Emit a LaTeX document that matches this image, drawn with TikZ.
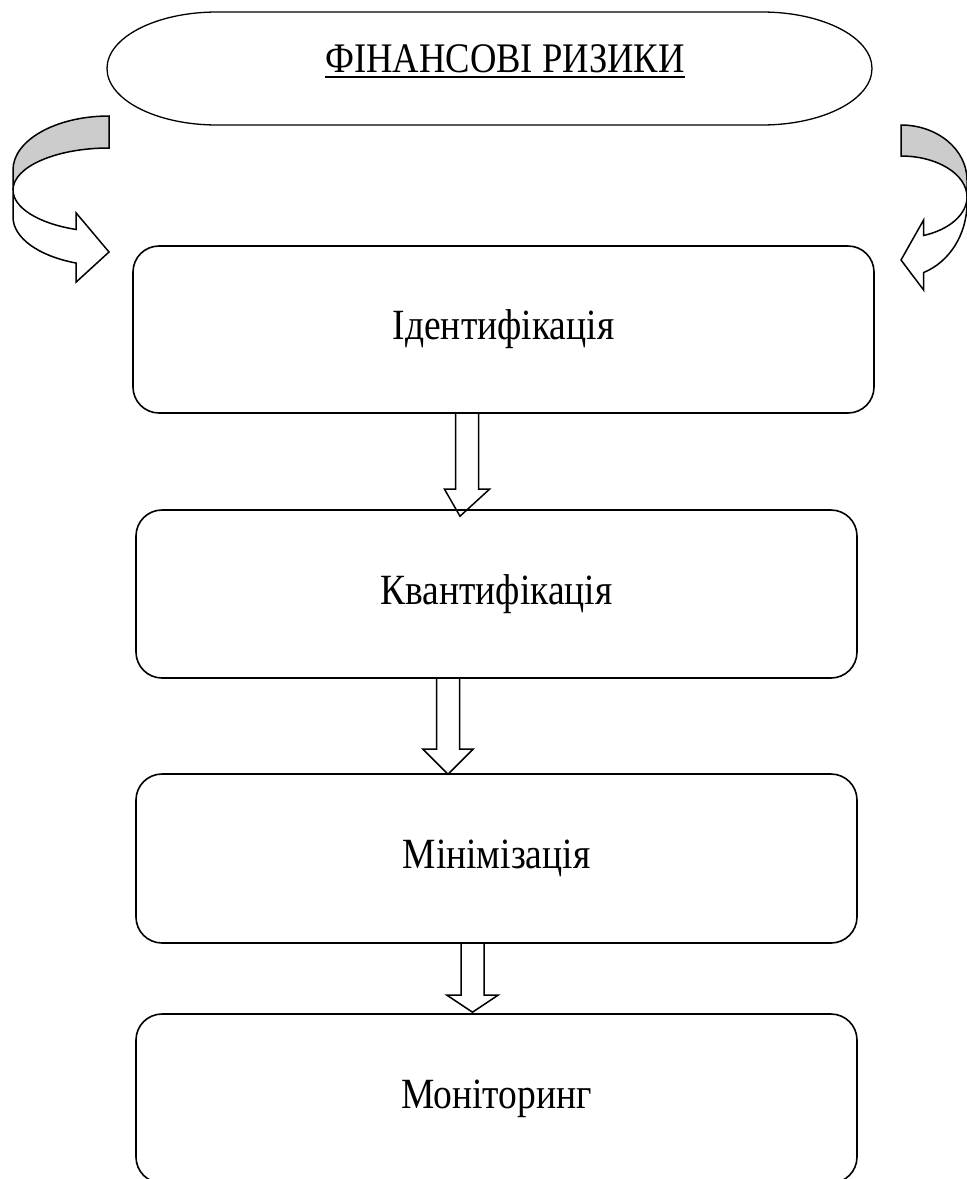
\documentclass[tikz,border=0pt]{standalone}
\usepackage{graphicx}
\usepackage{fontspec}
\setmainfont{Liberation Serif}
\usetikzlibrary{calc}

\newcommand{\tallText}[1]{\scalebox{1}[1.15]{#1}}

\tikzset{
  stagebox/.style={draw, line width=1.6pt, rounded corners=26pt,
    font=\fontsize{37.5}{44}\selectfont},
  blockarrow/.style={draw, line width=1.5pt, line join=miter},
  turnarrow/.style={draw, line width=1.5pt, line join=miter},
}

\begin{document}
\begin{tikzpicture}[x=1pt,y=-1pt]
  \useasboundingbox (0,0) rectangle (967,1179);
  \clip (0,0) rectangle (967,1179);

  % Title oval
  \draw[line width=1.3pt] (215,12) -- (762,12)
    arc[start angle=-90, end angle=90, x radius=110, y radius=56.5] -- (217,125)
    arc[start angle=90, end angle=270, x radius=110, y radius=56.5] -- cycle;
  \node[font=\fontsize{36.6}{43}\selectfont, anchor=base, inner sep=0pt] (title) at (505,72) {\tallText{ФІНАНСОВІ РИЗИКИ}};
  \draw[line width=2pt] ([yshift=-5pt]title.base west) -- ([yshift=-5pt]title.base east);

  % Stages
  \node[stagebox, minimum width=741pt, minimum height=167pt] (ident) at (503.5,329.5) {\tallText{Ідентифікація}};
  \node[stagebox, minimum width=721pt, minimum height=168pt] (quant) at (496.5,594) {\tallText{Квантифікація}};
  \node[stagebox, minimum width=721pt, minimum height=169pt] (minim) at (496.5,858.5) {\tallText{Мінімізація}};
  \node[stagebox, minimum width=721pt, minimum height=169pt] (monit) at (496.5,1098.5) {\tallText{Моніторинг}};

  % Turning arrows, left
  \filldraw[turnarrow, fill=gray!40] (109,116)
    arc[start angle=-90, end angle=-180, x radius=96, y radius=54] -- (13,190)
    arc[start angle=180, end angle=270, x radius=96, y radius=42] -- cycle;
  \filldraw[turnarrow, fill=white] (13,190) -- (13,217)
    arc[start angle=180, end angle=110, x radius=96, y radius=49]
    -- (76.2,282) -- (109,252) -- (76.2,213) -- (76.2,229.5)
    arc[start angle=110, end angle=180, x radius=96, y radius=42] -- cycle;

  % Turning arrows, right
  \filldraw[turnarrow, fill=gray!40] (901,125)
    arc[start angle=-90, end angle=0, x radius=66, y radius=55] -- (967,197)
    arc[start angle=0, end angle=-90, x radius=66, y radius=41] -- cycle;
  \filldraw[turnarrow, fill=white] (967,197) -- (967,203)
    arc[start angle=0, end angle=70, x radius=66, y radius=74]
    -- (923.6,290) -- (901,260) -- (923.6,220) -- (923.6,235.5)
    arc[start angle=70, end angle=0, x radius=66, y radius=41] -- cycle;

  % Block arrows between stages
  \foreach \src/\dst/\dx/\tip/\hlen/\hw in {ident/quant/-36.5/7/27/22.5,
      quant/minim/-48.5/1/25/25, minim/monit/-24/-1/17/25.5}
    \draw[blockarrow] let \p1=($(\src.south)+(\dx,0)$), \p2=($(\dst.north)+(\dx,\tip)$) in
      (\x1-11.5pt,\y1) -- (\x1-11.5pt,\y2+\hlen pt) -- (\x1-\hw pt,\y2+\hlen pt) -- (\x2,\y2)
      -- (\x1+\hw pt,\y2+\hlen pt) -- (\x1+11.5pt,\y2+\hlen pt) -- (\x1+11.5pt,\y1);
\end{tikzpicture}
\end{document}
